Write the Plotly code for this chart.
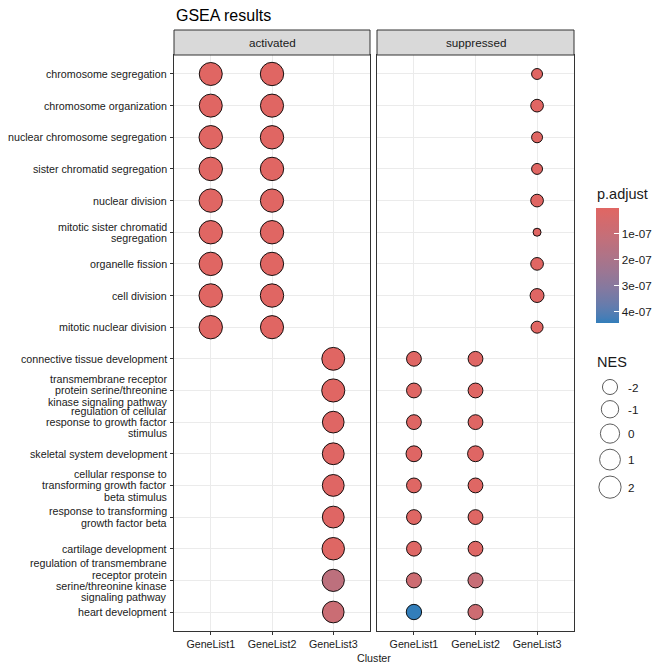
import textwrap
import numpy as np
import plotly.graph_objects as go

# ---------------- data ----------------
cell_terms = [
    "chromosome segregation",
    "chromosome organization",
    "nuclear chromosome segregation",
    "sister chromatid segregation",
    "nuclear division",
    "mitotic sister chromatid segregation",
    "organelle fission",
    "cell division",
    "mitotic nuclear division",
]
dev_terms = [
    "connective tissue development",
    "transmembrane receptor protein serine/threonine kinase signaling pathway",
    "regulation of cellular response to growth factor stimulus",
    "skeletal system development",
    "cellular response to transforming growth factor beta stimulus",
    "response to transforming growth factor beta",
    "cartilage development",
    "regulation of transmembrane receptor protein serine/threonine kinase signaling pathway",
    "heart development",
]
clusters = ["GeneList1", "GeneList2", "GeneList3"]
facets = ["activated", "suppressed"]

act_gl1_nes = [2.6, 2.6, 3.0, 3.0, 2.9, 2.9, 2.9, 3.0, 2.9]
act_gl2_nes = [2.9, 2.7, 2.9, 2.9, 2.8, 2.9, 2.8, 2.9, 2.7]
act_gl3_nes = [2.5, 2.7, 1.6, 1.7, 1.7, 1.7, 2.2, 2.0, 1.6]
sup_gl1_nes = [-2.1, -2.1, -2.1, -1.7, -2.1, -2.1, -2.1, -2.0, -1.9]
sup_gl2_nes = [-2.1, -2.1, -2.1, -1.7, -2.1, -2.1, -2.1, -2.0, -2.0]
sup_gl3_nes = [-3.1, -2.75, -3.1, -3.1, -2.75, -3.33, -2.75, -2.4, -2.9]

act_gl1_padj = [1.2e-10, 3.5e-10, 1.2e-10, 1.2e-10, 5.1e-10, 1.2e-10, 6.3e-10, 8.0e-10, 1.2e-10]
act_gl2_padj = [1.5e-10, 4.0e-10, 1.5e-10, 1.5e-10, 6.0e-10, 1.5e-10, 7.0e-10, 9.0e-10, 2.0e-10]
act_gl3_padj = [2e-9, 2e-9, 4e-9, 3e-9, 5e-9, 5e-9, 8e-9, 1.35e-7, 0.9e-7]
sup_gl1_padj = [3e-9, 4e-9, 5e-9, 4e-9, 6e-9, 6e-9, 9e-9, 0.75e-7, 4.42e-7]
sup_gl2_padj = [3e-9, 4e-9, 5e-9, 4e-9, 6e-9, 6e-9, 9e-9, 1.0e-7, 0.75e-7]
sup_gl3_padj = [1e-9, 2e-9, 1e-9, 1e-9, 2e-9, 1e-9, 2e-9, 3e-9, 2e-9]

padj_ticks = [1e-07, 2e-07, 3e-07, 4e-07]
nes_breaks = [-2, -1, 0, 1, 2]

# ---------------- helpers ----------------
def wrap_lines(t):
    return textwrap.wrap(t, 29) if len(t) > 30 else [t]

all_terms = cell_terms + dev_terms

all_nes = (act_gl1_nes + act_gl2_nes + act_gl3_nes + sup_gl1_nes + sup_gl2_nes + sup_gl3_nes)
all_padj = (act_gl1_padj + act_gl2_padj + act_gl3_padj + sup_gl1_padj + sup_gl2_padj + sup_gl3_padj)
nes_min, nes_max = min(all_nes), max(all_nes)
p_min, p_max = min(all_padj), max(all_padj)
S_LO, S_HI = 8.0, 23.5

def size_of(v):
    v = np.asarray(v, dtype=float)
    return S_LO + (S_HI - S_LO) * np.sqrt((v - nes_min) / (nes_max - nes_min))

def hex2rgb(h):
    h = h.lstrip("#")
    return [int(h[i:i + 2], 16) / 255 for i in (0, 2, 4)]

def rgb2lab(c):
    c = [((x + 0.055) / 1.055) ** 2.4 if x > 0.04045 else x / 12.92 for x in c]
    X = (0.4124 * c[0] + 0.3576 * c[1] + 0.1805 * c[2]) / 0.95047
    Y = (0.2126 * c[0] + 0.7152 * c[1] + 0.0722 * c[2])
    Z = (0.0193 * c[0] + 0.1192 * c[1] + 0.9505 * c[2]) / 1.08883
    f = lambda t: t ** (1 / 3) if t > 0.008856 else 7.787 * t + 16 / 116
    fx, fy, fz = f(X), f(Y), f(Z)
    return [116 * fy - 16, 500 * (fx - fy), 200 * (fy - fz)]

def lab2hex(l):
    fy = (l[0] + 16) / 116
    fx = fy + l[1] / 500
    fz = fy - l[2] / 200
    fi = lambda t: t ** 3 if t ** 3 > 0.008856 else (t - 16 / 116) / 7.787
    X, Y, Z = fi(fx) * 0.95047, fi(fy), fi(fz) * 1.08883
    r = 3.2406 * X - 1.5372 * Y - 0.4986 * Z
    g = -0.9689 * X + 1.8758 * Y + 0.0415 * Z
    b = 0.0557 * X - 0.2040 * Y + 1.0570 * Z
    out = []
    for x in (r, g, b):
        x = 1.055 * x ** (1 / 2.4) - 0.055 if x > 0.0031308 else 12.92 * x
        out.append(int(round(min(max(x, 0), 1) * 255)))
    return "#%02x%02x%02x" % tuple(out)

lab_blue, lab_red = rgb2lab(hex2rgb("#327eba")), rgb2lab(hex2rgb("#e06663"))
colorscale = []
for i in range(21):
    t = i / 20
    colorscale.append([t, lab2hex([lab_blue[k] + (lab_red[k] - lab_blue[k]) * t for k in range(3)])])

FONT = "Liberation Sans, Arial, sans-serif"
W, H = 672, 671
px = lambda x: x / W
py = lambda y: 1 - y / H
LINE_H = 11.3

# ---------------- figure ----------------
fig = go.Figure()

series = [
    ("x", "y", "GeneList1", cell_terms, act_gl1_nes, act_gl1_padj),
    ("x", "y", "GeneList2", cell_terms, act_gl2_nes, act_gl2_padj),
    ("x", "y", "GeneList3", dev_terms, act_gl3_nes, act_gl3_padj),
    ("x2", "y2", "GeneList1", dev_terms, sup_gl1_nes, sup_gl1_padj),
    ("x2", "y2", "GeneList2", dev_terms, sup_gl2_nes, sup_gl2_padj),
    ("x2", "y2", "GeneList3", cell_terms, sup_gl3_nes, sup_gl3_padj),
]
for xa, ya, cl, terms, nes, padj in series:
    fig.add_trace(go.Scatter(
        x=[cl] * len(terms), y=terms,
        xaxis=xa, yaxis=ya, mode="markers", showlegend=False,
        marker=dict(size=size_of(nes), color=[-p for p in padj], coloraxis="coloraxis",
                    line=dict(color="black", width=0.9), opacity=1),
    ))

# y tick labels (wrapped, tight line spacing like ggplot)
for i, term in enumerate(all_terms):
    lines = wrap_lines(term)
    n = len(lines)
    for j, ln in enumerate(lines):
        fig.add_annotation(x=px(168), xref="paper", y=i, yref="y", text=ln, showarrow=False,
                           xanchor="right", yanchor="middle", borderpad=0,
                           yshift=-(j - (n - 1) / 2) * LINE_H,
                           font=dict(size=10.7, color="#1a1a1a"))

# NES size legend
leg_sizes = size_of(nes_breaks)
leg_y = [387.0]
for i in range(1, len(nes_breaks)):
    leg_y.append(leg_y[-1] + (leg_sizes[i - 1] + leg_sizes[i]) / 2 + 6)
fig.add_trace(go.Scatter(
    x=[610] * len(nes_breaks), y=leg_y, xaxis="x3", yaxis="y3", mode="markers",
    showlegend=False, hoverinfo="skip",
    marker=dict(size=leg_sizes, color="white", line=dict(color="black", width=0.9)),
))
for v, yy in zip(nes_breaks, leg_y):
    fig.add_annotation(x=626, y=yy, xref="x3", yref="y3", text=str(v), showarrow=False,
                       xanchor="left", yanchor="middle", font=dict(size=11.7, color="#1a1a1a"))

common_x = dict(type="category", categoryorder="array", categoryarray=clusters,
                range=[-0.6, 2.6], showgrid=True, gridcolor="#EBEBEB", gridwidth=1,
                showline=True, mirror=True, linecolor="#333333", linewidth=1,
                ticks="outside", ticklen=3, tickcolor="#333333", tickwidth=1,
                tickfont=dict(size=10.7, color="#1a1a1a"), zeroline=False, fixedrange=True)
common_y = dict(type="category", categoryorder="array", categoryarray=all_terms,
                range=[len(all_terms) - 0.4, -0.6], showgrid=True, gridcolor="#EBEBEB", gridwidth=1,
                showline=True, mirror=True, linecolor="#333333", linewidth=1,
                showticklabels=False,
                zeroline=False, domain=[py(631), py(55)], fixedrange=True)

fig.update_layout(
    width=W, height=H, margin=dict(l=0, r=0, t=0, b=0),
    paper_bgcolor="white", plot_bgcolor="rgba(0,0,0,0)",
    font=dict(family=FONT, color="#1a1a1a"),
    xaxis=dict(common_x, domain=[px(174), px(370)], anchor="y"),
    xaxis2=dict(common_x, domain=[px(377), px(574)], anchor="y2"),
    yaxis=dict(common_y, anchor="x", ticks="outside", ticklen=3, tickcolor="#333333", tickwidth=1),
    yaxis2=dict(common_y, anchor="x2", ticks=""),
    xaxis3=dict(domain=[0, 1], range=[0, W], visible=False, anchor="y3", fixedrange=True),
    yaxis3=dict(domain=[0, 1], range=[H, 0], visible=False, anchor="x3", fixedrange=True),
    coloraxis=dict(
        colorscale=colorscale, cmin=-p_max, cmax=-p_min,
        colorbar=dict(x=px(596), xanchor="left", xpad=0, y=py(265), yanchor="middle", ypad=0,
                      len=115, lenmode="pixels", thickness=23, thicknessmode="pixels",
                      outlinewidth=0, tickvals=[-v for v in padj_ticks],
                      ticktext=["{:.0e}".format(v) for v in padj_ticks],
                      ticks="inside", ticklen=5, tickcolor="white", tickwidth=1,
                      tickfont=dict(size=11.7, color="#1a1a1a"), title=dict(text="")),
    ),
)

# strips
for (x0, x1), name in zip([(174, 370), (377, 574)], facets):
    fig.add_shape(type="rect", xref="paper", yref="paper", x0=px(x0), x1=px(x1),
                  y0=py(55), y1=py(30), fillcolor="#D9D9D9", line=dict(color="#333333", width=1))
    fig.add_annotation(x=px((x0 + x1) / 2), y=py(43), xref="paper", yref="paper", text=name,
                       showarrow=False, xanchor="center", yanchor="middle",
                       font=dict(size=11.7, color="#1a1a1a"))

fig.add_annotation(x=px(174), y=py(16), xref="paper", yref="paper", text="GSEA results",
                   showarrow=False, xanchor="left", yanchor="middle", font=dict(size=16, color="black"))
fig.add_annotation(x=px(374), y=py(658), xref="paper", yref="paper", text="Cluster",
                   showarrow=False, xanchor="center", yanchor="middle", font=dict(size=10.7, color="#1a1a1a"))
fig.add_annotation(x=px(595), y=py(194), xref="paper", yref="paper", text="p.adjust",
                   showarrow=False, xanchor="left", yanchor="middle", font=dict(size=14.5, color="#1a1a1a"))
fig.add_annotation(x=px(595), y=py(362), xref="paper", yref="paper", text="NES",
                   showarrow=False, xanchor="left", yanchor="middle", font=dict(size=14.5, color="#1a1a1a"))

fig.write_html("out.html", post_script="document.body.style.margin='0';",
               config={"displayModeBar": False})
